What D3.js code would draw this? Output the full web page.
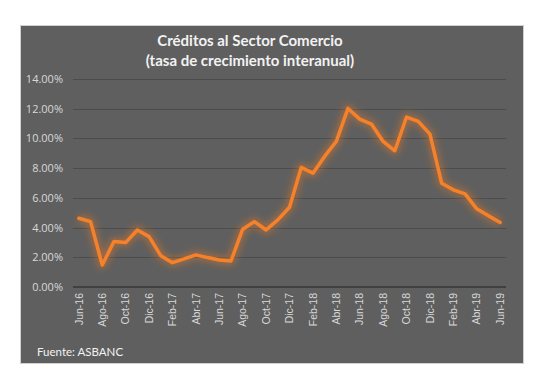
<!DOCTYPE html>
<html><head><meta charset="utf-8">
<script src="https://cdn.jsdelivr.net/npm/d3@7"></script>
<style>body{margin:0;background:#fff;}svg{display:block;}</style>
</head><body>
<script>
const months = ["Jun-16","Jul-16","Ago-16","Sep-16","Oct-16","Nov-16","Dic-16","Ene-17","Feb-17","Mar-17","Abr-17","May-17","Jun-17","Jul-17","Ago-17","Sep-17","Oct-17","Nov-17","Dic-17","Ene-18","Feb-18","Mar-18","Abr-18","May-18","Jun-18","Jul-18","Ago-18","Sep-18","Oct-18","Nov-18","Dic-18","Ene-19","Feb-19","Mar-19","Abr-19","May-19","Jun-19"];
const values = [4.63,4.40,1.48,3.06,2.99,3.84,3.39,2.11,1.64,1.89,2.16,1.98,1.82,1.75,3.89,4.40,3.84,4.52,5.37,8.05,7.66,8.79,9.80,12.02,11.30,10.97,9.80,9.17,11.44,11.15,10.29,6.99,6.54,6.27,5.26,4.79,4.34];
const yTicks = [0,2,4,6,8,10,12,14];
const xLabels = months.filter((d,i)=>i%2===0);
const titleLines = ["Créditos al Sector Comercio","(tasa de crecimiento interanual)"];
const source = "Fuente: ASBANC";

const W=555,H=392;
const svg=d3.select("body").append("svg").attr("width",W).attr("height",H);
const defs=svg.append("defs");
const f=defs.append("filter").attr("id","glow").attr("x","-10%").attr("y","-10%").attr("width","120%").attr("height","120%");
f.append("feGaussianBlur").attr("in","SourceGraphic").attr("stdDeviation",3.5).attr("result","b");
const fm=f.append("feMerge");
fm.append("feMergeNode").attr("in","b");

svg.append("rect").attr("x",20.5).attr("y",25.5).attr("width",503).attr("height",338)
  .attr("fill","#5f5f5f").attr("stroke","#d0d0d0").attr("stroke-width",1);

const m={l:73,r:506,t:79,b:287};
const x=d3.scaleBand().domain(months).range([m.l,m.r]);
const y=d3.scaleLinear().domain([0,14]).range([m.b,m.t]);

const g=svg.append("g");
g.selectAll("line.grid").data(yTicks.filter(d=>d>0)).join("line")
  .attr("x1",m.l).attr("x2",m.r).attr("y1",d=>Math.round(y(d))+0.5).attr("y2",d=>Math.round(y(d))+0.5)
  .attr("stroke","#4c4c4c").attr("stroke-width",1.2);
g.append("line").attr("x1",m.l).attr("x2",m.r).attr("y1",y(0)).attr("y2",y(0))
  .attr("stroke","#404040").attr("stroke-width",2);

const yAxis=d3.axisLeft(y).tickValues(yTicks).tickSize(0).tickPadding(10).tickFormat(d=>d.toFixed(2)+"%");
const ya=svg.append("g").attr("transform",`translate(${m.l},0)`).call(yAxis);
ya.select(".domain").remove();
ya.selectAll("text").attr("fill","#d8d8d8").style("font-family","'Open Sans',sans-serif").style("font-size","11px");

const xAxis=d3.axisBottom(x).tickValues(xLabels).tickSize(0).tickPadding(0);
const xa=svg.append("g").attr("transform",`translate(0,${m.b})`).call(xAxis);
xa.select(".domain").remove();
xa.selectAll("text").attr("fill","#d8d8d8").style("font-family","'Liberation Sans',Arial,sans-serif").style("font-size","10.5px")
  .attr("text-anchor","end").attr("transform","rotate(-90)").attr("x",-6).attr("y",0).attr("dy","0.35em");

const line=d3.line().x((d,i)=>x(months[i])+x.bandwidth()/2).y(d=>y(d));
svg.append("path").datum(values).attr("d",line).attr("fill","none")
  .attr("stroke","#f07a1e").attr("stroke-opacity",0.45).attr("stroke-width",8).attr("stroke-linejoin","round").attr("filter","url(#glow)");
svg.append("path").datum(values).attr("d",line).attr("fill","none")
  .attr("stroke","#f5822a").attr("stroke-width",3.5).attr("stroke-linejoin","round").attr("stroke-linecap","round");

svg.append("g").selectAll("text").data(titleLines).join("text")
  .attr("x",250).attr("y",(d,i)=>46+i*20).attr("text-anchor","middle")
  .attr("fill","#f2f2f2").style("font-family","Lato,'Open Sans',sans-serif").style("font-weight","bold").style("font-size","15px")
  .text(d=>d);

svg.append("text").attr("x",37).attr("y",356).attr("fill","#f2f2f2")
  .style("font-family","Lato,'Open Sans',sans-serif").style("font-size","11.5px").text(source);
</script>
</body></html>
